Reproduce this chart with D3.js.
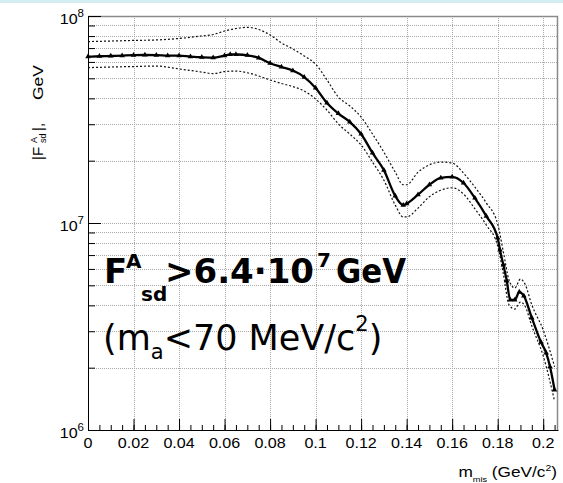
<!DOCTYPE html>
<html>
<head>
<meta charset="utf-8">
<script src="https://cdn.jsdelivr.net/npm/d3@7"></script>
<style>
  body { margin: 0; background: #fff; }
  svg { display: block; }
</style>
</head>
<body>
<script>
// Limit on the axial coupling |F^A_sd| versus missing mass (GeV/c^2)
const massCentral = [0, 0.005, 0.01, 0.015, 0.02, 0.025, 0.03, 0.035, 0.04, 0.045,
  0.05, 0.055, 0.06, 0.0625, 0.065, 0.07, 0.075, 0.08, 0.085, 0.09,
  0.095, 0.1, 0.105, 0.11, 0.115, 0.12, 0.125, 0.13, 0.135, 0.1385,
  0.14, 0.145, 0.15, 0.155, 0.16, 0.165, 0.17, 0.175, 0.18, 0.181,
  0.1825, 0.184, 0.1855, 0.1875, 0.1895, 0.1915, 0.195, 0.199, 0.2013, 0.203, 0.205];
const limitCentral = [6.36e7, 6.39e7, 6.41e7, 6.44e7, 6.47e7, 6.48e7, 6.47e7, 6.44e7, 6.43e7, 6.37e7,
  6.32e7, 6.29e7, 6.44e7, 6.53e7, 6.52e7, 6.46e7, 6.28e7, 5.91e7, 5.67e7, 5.45e7,
  5.07e7, 4.49e7, 3.80e7, 3.38e7, 3.08e7, 2.69e7, 2.18e7, 1.80e7, 1.35e7, 1.22e7,
  1.24e7, 1.37e7, 1.53e7, 1.65e7, 1.67e7, 1.56e7, 1.32e7, 1.08e7, 8.46e6, 7.41e6,
  6.27e6, 5.25e6, 4.25e6, 4.25e6, 4.64e6, 4.44e6, 3.48e6, 2.66e6, 2.36e6, 2.02e6, 1.56e6];

// Uncertainty band (dotted curves)
const massBand = [0, 0.01, 0.02, 0.03, 0.04, 0.05, 0.055, 0.06, 0.065, 0.07,
  0.075, 0.08, 0.085, 0.09, 0.095, 0.1, 0.105, 0.11, 0.115, 0.12,
  0.125, 0.13, 0.135, 0.1385, 0.14, 0.145, 0.15, 0.155, 0.16, 0.165,
  0.17, 0.175, 0.18, 0.1825, 0.185, 0.1875, 0.19, 0.192, 0.195, 0.2, 0.205];
const limitUpper = [7.52e7, 7.57e7, 7.62e7, 7.66e7, 7.79e7, 8.01e7, 8.14e7, 8.46e7, 8.70e7, 8.82e7,
  8.61e7, 8.10e7, 7.41e7, 6.93e7, 6.41e7, 5.86e7, 4.91e7, 4.06e7, 3.68e7, 3.25e7,
  2.69e7, 2.20e7, 1.76e7, 1.53e7, 1.53e7, 1.76e7, 1.91e7, 1.97e7, 1.95e7, 1.74e7,
  1.49e7, 1.25e7, 9.89e6, 7.24e6, 5.30e6, 4.85e6, 5.36e6, 5.07e6, 4.02e6, 3.04e6, 2.02e6];
const limitLower = [5.63e7, 5.67e7, 5.70e7, 5.73e7, 5.55e7, 5.36e7, 5.27e7, 5.39e7, 5.42e7, 5.32e7,
  5.13e7, 4.91e7, 4.72e7, 4.56e7, 4.34e7, 3.97e7, 3.51e7, 3.01e7, 2.69e7, 2.38e7,
  1.97e7, 1.61e7, 1.22e7, 1.07e7, 1.07e7, 1.18e7, 1.34e7, 1.44e7, 1.48e7, 1.38e7,
  1.17e7, 9.78e6, 7.74e6, 5.67e6, 4.02e6, 3.84e6, 4.15e6, 3.97e6, 3.18e6, 2.28e6, 1.38e6];

const xTickValues = [0, 0.02, 0.04, 0.06, 0.08, 0.1, 0.12, 0.14, 0.16, 0.18, 0.2];
const xTickLabels = ["0", "0.02", "0.04", "0.06", "0.08", "0.1", "0.12", "0.14", "0.16", "0.18", "0.2"];
const yDecades = [6, 7, 8];

const W = 563, H = 483;
const svg = d3.select("body").append("svg").attr("width", W).attr("height", H);
svg.append("rect").attr("width", W).attr("height", H).attr("fill", "#fff");
svg.append("rect").attr("width", W).attr("height", 3).attr("fill", "#d3edf0");

const x = d3.scaleLinear().domain([0, 0.2065]).range([88, 558]);
const y = d3.scaleLog().domain([1e6, 1e8]).range([430, 16]);

const HELV = "'Liberation Sans', Arial, Helvetica, sans-serif";
const DJV = "'DejaVu Sans', Verdana, sans-serif";
const SX = 1.15; // horizontal stretch of the axis lettering

// minor log positions 1..9 x 10^d
const yMinor = [];
[6, 7].forEach(d => { for (let k = 1; k <= 9; k++) yMinor.push(k * Math.pow(10, d)); });
yMinor.push(1e8);
const xMinor = d3.range(0, 0.2061, 0.005);

// grid
const grid = svg.append("g").attr("stroke", "#a8a8a8").attr("stroke-width", 1)
  .attr("stroke-dasharray", "1,1").attr("fill", "none");
grid.selectAll("line.v").data(xTickValues.slice(1)).join("line")
  .attr("x1", d => Math.round(x(d)) + 0.5).attr("x2", d => Math.round(x(d)) + 0.5)
  .attr("y1", 16).attr("y2", 430);
grid.selectAll("line.h").data(yMinor.filter(v => v > 1e6 && v < 1e8)).join("line")
  .attr("x1", 88).attr("x2", 558)
  .attr("y1", d => Math.round(y(d)) + 0.5).attr("y2", d => Math.round(y(d)) + 0.5);

// frame top/right
svg.append("path")
  .attr("d", `M88,16.5H557.5V430`)
  .attr("fill", "none").attr("stroke", "#8a8a8a").attr("stroke-width", 1.5);

// axes with inward ticks
const axB = svg.append("g").attr("transform", "translate(0,430)");
axB.call(d3.axisBottom(x).tickValues(xMinor).tickSize(-5).tickSizeOuter(0).tickFormat(""));
const axBMaj = svg.append("g").attr("transform", "translate(0,430)");
axBMaj.call(d3.axisBottom(x).tickValues(xTickValues).tickSize(-11).tickSizeOuter(0).tickFormat(""));
axBMaj.select(".domain").remove();

const axL = svg.append("g").attr("transform", "translate(88,0)");
axL.call(d3.axisLeft(y).tickValues(yMinor).tickSize(-7).tickSizeOuter(0).tickFormat(""));
const axLMaj = svg.append("g").attr("transform", "translate(88,0)");
axLMaj.call(d3.axisLeft(y).tickValues(yDecades.map(d => Math.pow(10, d))).tickSize(-13).tickSizeOuter(0).tickFormat(""));
axLMaj.select(".domain").remove();
svg.selectAll(".domain, .tick line").attr("stroke", "#000").attr("stroke-width", 1);

// x tick labels
xTickValues.forEach((v, i) => {
  svg.append("text")
    .attr("transform", `translate(${x(v)},448) scale(${SX},1)`)
    .attr("text-anchor", "middle").attr("font-family", HELV).attr("font-size", 14)
    .attr("fill", "#000").text(xTickLabels[i]);
});

// y tick labels 10^d
yDecades.forEach(d => {
  const t = svg.append("text")
    .attr("transform", `translate(84,${y(Math.pow(10, d)) + 8}) scale(${SX},1)`)
    .attr("text-anchor", "end").attr("font-family", HELV).attr("font-size", 14).attr("fill", "#000");
  t.append("tspan").text("10");
  t.append("tspan").attr("font-size", 10).attr("dy", -7).text(String(d));
});

// x axis title
{
  const t = svg.append("text")
    .attr("transform", `translate(557,477) scale(${SX},1)`)
    .attr("text-anchor", "end").attr("font-family", HELV).attr("font-size", 15).attr("fill", "#000");
  t.append("tspan").text("m");
  t.append("tspan").attr("font-size", 8).attr("dy", 5).text("mis");
  t.append("tspan").attr("font-size", 15).attr("dy", -5).text(" (GeV/c");
  t.append("tspan").attr("font-size", 9).attr("dy", -6).text("2");
  t.append("tspan").attr("font-size", 15).attr("dy", 6).text(")");
}

// y axis title (rotated)
{
  const g = svg.append("g").attr("transform", "translate(43,0) rotate(-90)");
  const put = (str, xp, dy, size, len) => {
    const t = g.append("text").attr("x", xp).attr("y", dy).attr("font-size", size)
      .attr("font-family", HELV).attr("fill", "#000");
    if (len) t.attr("textLength", len).attr("lengthAdjust", "spacingAndGlyphs");
    t.text(str);
  };
  put("|F", -160, 0, 15);
  put("A", -143, -6, 9);
  put("sd", -143, 3, 9);
  put("|,", -131, 0, 15);
  put("GeV", -100, 0, 15, 35);
}

// limit band and central curve
const line = d3.line().x(d => x(d[0])).y(d => y(d[1])).curve(d3.curveMonotoneX);
const upperPts = massBand.map((m, i) => [m, limitUpper[i]]);
const lowerPts = massBand.map((m, i) => [m, limitLower[i]]);
const centralPts = massCentral.map((m, i) => [m, limitCentral[i]]);

[upperPts, lowerPts].forEach(pts => {
  svg.append("path").attr("d", line(pts)).attr("fill", "none")
    .attr("stroke", "#111").attr("stroke-width", 1.2).attr("stroke-dasharray", "2,2");
});
svg.append("path").attr("d", line(centralPts)).attr("fill", "none")
  .attr("stroke", "#000").attr("stroke-width", 2.3).attr("stroke-linejoin", "round");
svg.append("g").selectAll("path").data(centralPts).join("path")
  .attr("transform", d => `translate(${x(d[0])},${y(d[1])})`)
  .attr("d", d3.symbol(d3.symbolTriangle, 13)).attr("fill", "#000");

// result annotation
{
  const bold = (str, xp, yp, size, len) => {
    const t = svg.append("text").attr("x", xp).attr("y", yp)
      .attr("font-family", DJV).attr("font-weight", "bold").attr("font-size", size).attr("fill", "#000");
    if (len) t.attr("textLength", len).attr("lengthAdjust", "spacingAndGlyphs");
    t.text(str);
  };
  bold("F", 104, 283, 34);
  bold("A", 126, 268, 20);
  bold("sd", 141, 301, 20);
  bold(">6.4\u00B710", 165, 283, 34);
  bold("7", 317, 267, 20);
  bold("GeV", 336, 283, 34, 70);

  const t = svg.append("text").attr("x", 103).attr("y", 350)
    .attr("font-family", DJV).attr("font-size", 35).attr("fill", "#000");
  t.append("tspan").text("(m");
  t.append("tspan").attr("font-size", 21).attr("dy", 9).text("a");
  t.append("tspan").attr("font-size", 35).attr("dy", -9).text("<70 MeV/c");
  t.append("tspan").attr("font-size", 21).attr("dy", -19).text("2");
  t.append("tspan").attr("font-size", 35).attr("dy", 19).text(")");
}
</script>
</body>
</html>
